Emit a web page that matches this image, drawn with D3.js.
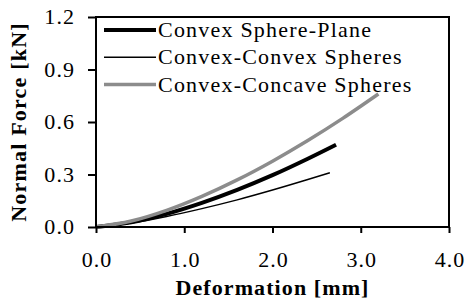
<!DOCTYPE html>
<html>
<head>
<meta charset="utf-8">
<script src="https://cdn.jsdelivr.net/npm/d3@7"></script>
<style>
  body { margin: 0; background: #fff; }
  text { font-family: "Liberation Serif", "Times New Roman", serif; }
</style>
</head>
<body>
<div id="chart"></div>
<script>
// deformation [mm] / normal force [kN]
const xSpherePlane = [0, 0.4, 0.8, 1.2, 1.6, 2.0, 2.4, 2.72]
const ySpherePlane = [0, 0.027, 0.075, 0.138, 0.212, 0.296, 0.39, 0.47]

const xConvexConvex = [0, 0.4, 0.8, 1.2, 1.6, 2.0, 2.4, 2.65]
const yConvexConvex = [0, 0.023, 0.06, 0.105, 0.155, 0.211, 0.271, 0.31]

const xConvexConcave = [0, 0.4, 0.8, 1.2, 1.6, 2.0, 2.4, 2.8, 3.2]
const yConvexConcave = [0, 0.034, 0.095, 0.175, 0.269, 0.376, 0.494, 0.622, 0.76]

const seriesNames = ["Convex Sphere-Plane", "Convex-Convex Spheres", "Convex-Concave Spheres"]
const xTicks = [0, 1, 2, 3, 4]
const yTicks = [0, 0.3, 0.6, 0.9, 1.2]

const width = 467, height = 300
const margin = { top: 17, right: 18, bottom: 73, left: 96 }
// the original text is drawn a bit wide and spaced out
const stretch = 1.1

const svg = d3.select("#chart").append("svg")
    .attr("width", width)
    .attr("height", height)

const x = d3.scaleLinear().domain([0, 4]).range([margin.left, width - margin.right])
const y = d3.scaleLinear().domain([0, 1.2]).range([height - margin.bottom, margin.top])

const series = [
    { name: seriesNames[0], xs: xSpherePlane, ys: ySpherePlane, color: "#000", w: 4 },
    { name: seriesNames[1], xs: xConvexConvex, ys: yConvexConvex, color: "#000", w: 1.5 },
    { name: seriesNames[2], xs: xConvexConcave, ys: yConvexConcave, color: "#8c8c8c", w: 3.5 }
]

const line = d3.line()
    .x(d => x(d[0]))
    .y(d => y(d[1]))
    .curve(d3.curveMonotoneX)

svg.selectAll("path.series")
    .data(series)
    .enter()
    .append("path")
    .attr("class", "series")
    .attr("fill", "none")
    .attr("stroke", d => d.color)
    .attr("stroke-width", d => d.w)
    .attr("d", d => line(d.xs.map((v, i) => [v, d.ys[i]])))

// axes
const xAxis = svg.append("g")
    .attr("transform", "translate(0," + y(0) + ")")
    .call(d3.axisBottom(x).tickValues(xTicks).tickSize(6).tickFormat(d3.format(".1f")))
const yAxis = svg.append("g")
    .attr("transform", "translate(" + x(0) + ",0)")
    .call(d3.axisLeft(y).tickValues(yTicks).tickSize(8).tickFormat(d3.format(".1f")))

svg.selectAll(".domain").remove()
svg.selectAll(".tick line").attr("stroke", "#000").attr("stroke-width", 2)
svg.selectAll(".tick text")
    .attr("fill", "#000")
    .style("font-size", "20px")
    .style("letter-spacing", "1px")
    .attr("transform", "scale(" + stretch + ",1)")

xAxis.selectAll(".tick text").attr("y", 26).attr("dx", "0.5px").attr("dy", "0.71em")
yAxis.selectAll(".tick text").attr("x", -22 / stretch).attr("dx", "1px").attr("dy", "0.34em")

// frame
svg.append("rect")
    .attr("x", x(0))
    .attr("y", y(1.2))
    .attr("width", x(4) - x(0))
    .attr("height", y(0) - y(1.2))
    .attr("fill", "none")
    .attr("stroke", "#000")
    .attr("stroke-width", 2)

// legend
const legend = svg.append("g")
series.forEach((s, i) => {
    let ly = 30 + i * 27.3
    legend.append("line")
        .attr("x1", 104).attr("x2", 156)
        .attr("y1", ly).attr("y2", ly)
        .attr("stroke", s.color)
        .attr("stroke-width", s.w)
    legend.append("text")
        .attr("transform", "translate(158," + ly + ")scale(" + stretch + ",1)")
        .attr("dy", "0.35em")
        .style("font-size", "20px")
        .style("letter-spacing", "1.1px")
        .text(s.name)
})

// titles
svg.append("text")
    .attr("transform", "translate(" + (x(0) + x(4)) / 2 + ",295)scale(" + stretch + ",1)")
    .attr("text-anchor", "middle")
    .style("font-size", "20px")
    .style("font-weight", "bold")
    .style("letter-spacing", "1px")
    .text("Deformation [mm]")

svg.append("text")
    .attr("transform", "translate(26," + (y(0) + y(1.2)) / 2 + ")rotate(-90)scale(" + stretch + ",1)")
    .attr("text-anchor", "middle")
    .style("font-size", "20px")
    .style("font-weight", "bold")
    .style("letter-spacing", "1.1px")
    .text("Normal Force [kN]")
</script>
</body>
</html>
